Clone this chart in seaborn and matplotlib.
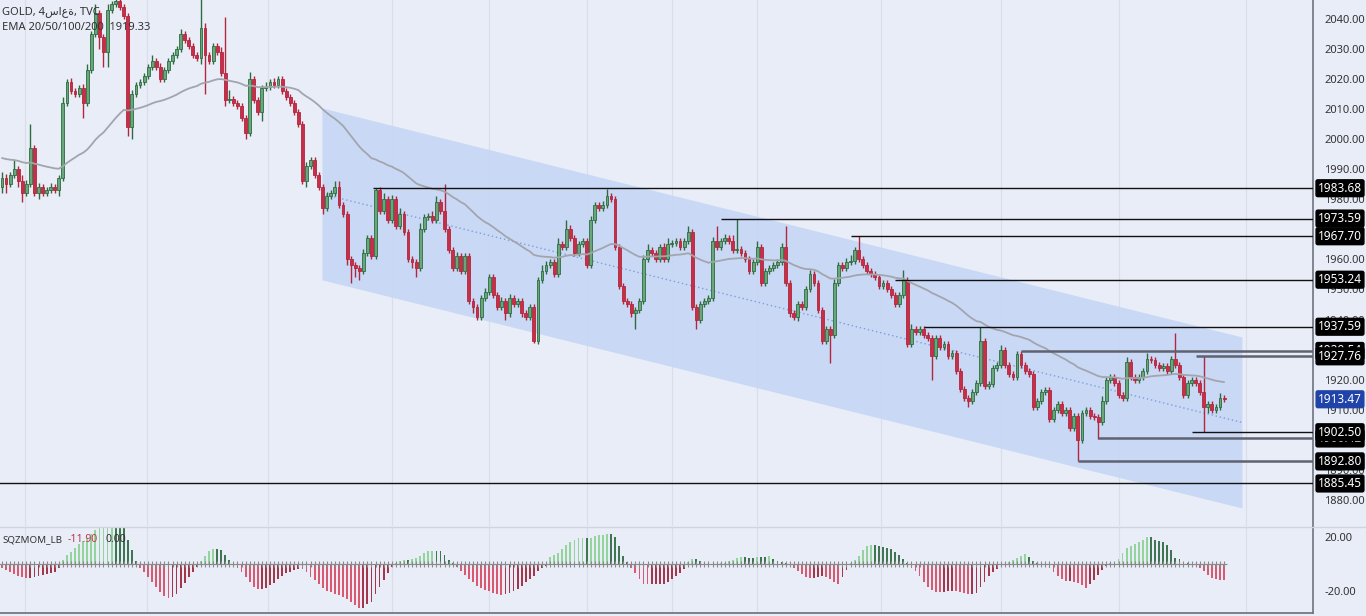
import numpy as np
import pandas as pd
import matplotlib
matplotlib.use("Agg")
import matplotlib.pyplot as plt
import matplotlib.transforms as mtrans
from matplotlib.lines import Line2D
import seaborn as sns

# ---- data (4h GOLD candles, left to right) ----
closes = [
    1987, 1985, 1988, 1990, 1986, 1982, 1985, 1997, 1982, 1984,
    1982, 1983, 1984, 1983, 1987, 2012, 2019, 2016, 2015, 2017,
    2012, 2023, 2035, 2042, 2034, 2029, 2043, 2045, 2046, 2044,
    2041, 2004, 2015, 2018, 2019, 2021, 2024, 2026, 2024, 2020,
    2023, 2026, 2028, 2030, 2035, 2033, 2031, 2028, 2027, 2037,
    2028, 2026, 2031, 2029, 2022, 2013, 2013.5, 2012, 2011, 2007,
    2002, 2020, 2013, 2009, 2017, 2017.5, 2019, 2018, 2020, 2016,
    2014, 2012, 2009, 2005, 1986, 1991, 1993, 1988, 1984, 1977,
    1981, 1982, 1984, 1978, 1975, 1960, 1958, 1957, 1956, 1962,
    1967, 1961, 1983, 1976, 1980, 1973, 1980, 1971, 1975, 1969,
    1960, 1959, 1957, 1970, 1974, 1974.5, 1973, 1979, 1976, 1970,
    1963, 1957, 1961, 1956, 1961, 1946, 1944, 1941, 1947, 1949,
    1954, 1948, 1944, 1946, 1942, 1947, 1945, 1946, 1942, 1941,
    1944, 1933, 1953, 1956, 1958, 1959, 1955, 1965, 1964, 1970,
    1967, 1962, 1965, 1966, 1958, 1973, 1978, 1977, 1978, 1981,
    1980, 1964, 1951, 1946, 1945, 1942, 1943, 1946, 1960, 1963,
    1962, 1960, 1964, 1960, 1965, 1965.5, 1966, 1964, 1966, 1969,
    1944, 1940, 1945, 1946, 1947, 1966, 1964, 1966, 1967, 1966,
    1963, 1963.5, 1962, 1960, 1956, 1959, 1964, 1952, 1956, 1957,
    1958, 1959, 1964, 1952, 1942, 1941, 1945, 1944, 1950, 1955,
    1952, 1943, 1933, 1937, 1935, 1952, 1958, 1957, 1959, 1959.5,
    1963, 1960, 1958, 1956, 1955, 1954, 1951, 1952, 1950, 1948,
    1945, 1948, 1953, 1932, 1937, 1936, 1937, 1935, 1934, 1928,
    1934, 1931, 1932, 1928, 1929, 1923, 1917, 1914, 1913, 1916,
    1919, 1933, 1918, 1918.5, 1924, 1925, 1930, 1925, 1922, 1921,
    1928.5, 1925, 1923, 1922, 1911, 1913, 1916, 1916.5, 1907, 1910,
    1912, 1909, 1910, 1904, 1908, 1900, 1909, 1910, 1908, 1907.5,
    1906, 1913, 1920, 1921, 1919, 1915, 1914, 1926, 1921, 1920,
    1921, 1923, 1927, 1926.5, 1925, 1924, 1924.5, 1923, 1927, 1925,
    1921, 1915, 1919, 1920, 1919, 1916, 1911, 1912, 1910, 1911,
    1914, 1913.47,
]
wick_up = [
    2, 1.5, 1, 3, 1, 2, 1.5, 8, 1, 1.5,
    1, 1, 1.5, 1, 1, 2, 1, 1.5, 1, 1,
    1.5, 2, 1, 3, 1, 1, 2, 1, 2, 2,
    1, 1, 1.5, 1, 1, 1, 1, 2, 1, 1.5,
    1, 1, 1, 1, 1.5, 1, 1, 1, 1, 12,
    1.5, 1, 1, 1, 1.5, 18.7, 3, 1, 1, 1,
    1, 2.4, 1, 1, 1, 1.5, 1, 1.5, 1, 1,
    1, 1, 1, 1, 1, 1.5, 1, 1, 1, 1,
    1.5, 1, 2, 2, 1, 1, 1, 1, 1, 1.5,
    1, 1, 0.68, 1, 2, 1, 1.5, 1, 2, 1,
    1, 1, 1, 2, 1, 1, 1.5, 2, 1, 9,
    1, 1, 1.5, 1, 1, 1, 1, 1, 1, 1.5,
    1, 1, 1, 1.5, 1, 1.5, 1, 1, 1, 1,
    1, 1, 1, 2, 1.5, 1, 1, 2, 1, 3,
    1.5, 1, 1, 1, 1, 1.5, 1, 1, 1.5, 2.5,
    1, 1, 1, 1, 1, 1, 1, 1, 1.5, 2,
    1, 1, 1, 1.5, 2, 1, 1, 1, 1, 2,
    1, 1, 1, 1, 1, 1.5, 5, 1, 1.5, 1,
    2, 10.09, 1, 1, 1, 1, 2, 1, 1, 1,
    1, 1, 1.5, 7, 1, 1, 1, 1, 1, 1.5,
    1, 1, 1, 1, 1, 1.5, 1, 1, 1.5, 2,
    1, 4.7, 1, 1, 1, 1, 1, 1, 1, 1,
    1, 1, 3.5, 1, 1.5, 1, 1, 1, 1, 1,
    1, 1, 1, 1, 1, 1, 1, 1, 1, 1,
    1, 4.59, 1, 1, 1, 1, 1.5, 1, 1, 1,
    1.04, 1, 1, 1, 1, 1, 1, 1, 1, 1,
    1, 1, 1, 1, 1, 1, 1, 1, 1, 1,
    1, 1.5, 1, 1, 1, 1, 1, 1.5, 1, 1,
    1, 1, 2, 1, 1, 1, 1, 1, 1, 8.6,
    1, 1, 1, 1, 1, 1, 11.76, 1, 1, 1,
    1.5, 1,
]
wick_dn = [
    2, 3, 1, 1, 2, 3, 1, 1, 1, 2,
    1, 1, 1, 1, 2, 1, 1, 1, 1, 1,
    5, 1, 1, 1, 4, 5, 5, 1, 1, 1,
    1, 3, 4, 1, 1, 1, 1, 1, 1, 1,
    1, 1, 1, 1, 1, 1, 1, 1, 1, 2,
    13, 1, 1, 1, 1, 2, 1, 1, 1, 1,
    2, 1, 1, 1, 3, 1, 1, 1, 1, 1,
    1, 1, 1, 1, 1, 2, 1, 1, 1, 2,
    1, 1, 1, 1, 1, 2, 6, 3, 3, 1,
    1, 1, 1, 1, 1, 1, 1, 1, 1, 1,
    1, 2, 3, 1, 1, 1, 1, 1, 1, 1,
    1, 1, 1, 1, 1, 1, 2, 1, 1, 1,
    1, 1, 1, 1, 2, 1, 1, 1, 1, 1,
    1, 0.8, 1, 1, 1, 1, 1, 1, 1, 1,
    1, 1, 1, 1, 1, 1, 1, 1, 1, 1,
    1, 1, 1, 1, 1, 1, 5, 1, 1, 1,
    1, 1, 1, 1, 1, 1, 1, 1, 1, 1,
    1, 3, 1, 1, 1, 1, 1, 1, 1, 1,
    1, 1, 1, 1, 1, 1, 1, 1, 1, 1,
    1, 1, 1, 1, 1, 1, 1.5, 1, 1, 1,
    1, 1, 1, 1, 9.5, 1, 1, 1, 1, 1,
    1, 1, 1, 1, 1, 1, 1, 1, 1, 1,
    1, 1, 1, 1, 1, 1, 1, 1, 1, 8,
    1, 1, 1, 1, 1, 1, 1, 1, 2, 1,
    1, 1, 1, 1, 1, 1, 1, 1, 1, 1,
    1, 1, 1, 1, 1, 1, 1, 1, 1, 1,
    1, 1, 1, 1, 1, 7.2, 1, 1, 1, 1,
    5.6, 1, 1, 1, 1, 1, 1, 1, 1, 1,
    1, 1, 1, 1, 1, 1, 1, 1, 1, 1,
    1, 1, 1, 1, 1, 1, 8.5, 2, 1, 1,
    1, 1,
]
# squeeze momentum histogram
momentum = [
    -3, -4.5, -6, -7.5, -9, -10, -10.5, -10.3, -9.5, -9, -8.5, -7.5, -6.5, -5.7, -3,
    3, 6.7, 9, 12, 15, 17, 19, 22, 25, 28, 30, 32, 33, 32, 31, 29, 18, 10, 2,
    -3, -6, -10, -13, -17, -21, -24, -25, -24.5, -22, -18, -14, -10, -6, -2,
    2, 6, 9.6, 11, 11, 10.5, 7, 3, 1,
    -3, -6, -10, -13, -17, -18.5, -18.5, -18, -15.5, -14, -11, -9, -7, -5.7, -4.5, -3.5,
    -4, -6, -9.5, -12, -15, -18, -20, -21, -22, -23, -24.5, -26, -28, -30.5, -32.5, -32.5,
    -30, -28, -22, -17, -12, -7, -2,
    0.8, 2, 3, 3, 4, 4.5, 6, 8, 9.5, 9.7, 9.7, 9.5, 7, 3, 0.5, -2,
    -5, -8, -11, -13.5, -16, -18, -19, -20, -21.3, -22.5, -23, -22.5, -21.5, -20, -18.5,
    -16, -13, -11.4, -9, -5.5, -3, -1.5,
    5, 7, 8.5, 11, 14, 16, 17.5, 19, 19.3, 19.3, 19.5, 20.5, 21.5, 21.8, 22, 22, 20, 13, 6, 1.5,
    -2.6, -7, -11, -14.5, -15, -15, -15, -15, -14.5, -13, -11, -9, -6.5, -3.7,
    1.5, 4, 4, 2,
    -1, -1.5, -1, -0.5, 0.7, 1,
    2, 3, 4.4, 5, 5, 4.5, 4.5, 5, 5, 5, 5.9, 3.5, 2, 1.5, 0.5,
    -1, -2.6, -5, -7.5, -9.5, -10.4, -10.4, -10, -9, -9.5, -11, -13, -14.5, -10, -4.7,
    1, 3, 6, 10, 13, 14, 14, 13.5, 12.5, 11.8, 11, 9, 7, 3.5, 0.5,
    -2.6, -5, -9, -13, -17, -19.5, -20.5, -20.6, -20.6, -20, -19.7, -20, -20.6, -21.5, -22,
    -22, -21.5, -17, -13, -9, -5.7, -3.7, -1,
    -0.5, 1.5, 3, 4.4, 6, 7.3, 5, 2, 1,
    -0.5, -1.5, -3, -6, -9, -11.4, -12.5, -12.5, -13, -14, -15.5, -17.5, -15, -11.5, -8, -4.5, -1.5,
    0.5, 1.5, 4, 8, 12, 13, 14.5, 16.5, 18, 19.8, 19.8, 18, 17, 16.5, 14, 10, 4.4, 3.5,
    1, 0.5, -0.5, -1, -2.6, -5, -8, -10.4, -11, -11.5, -11.9,
]
first_open = 1984
ema_seed = 1994
ema_span = 50
last_price = 1913.47

# horizontal levels drawn on the chart and the candle where each starts
levels = [1983.68, 1973.59, 1967.70, 1953.24, 1937.59, 1929.54, 1927.76, 1900.42, 1902.50, 1892.80, 1885.45]
level_start = [91.5, 177, 209, 220, 227, 251, 294, 270, 293, 265, -1]
level_gray = [False, False, False, False, False, True, True, True, False, True, False]

# regression channel (candle index, price)
channel_x = [78.8, 305.4]
channel_top = [2010.4, 1934.2]
channel_bottom = [1953.2, 1877.3]

price_ticks = list(range(1880, 2041, 10))
mom_ticks = [20, -20]
grid_idx = [5.7, 35.7, 65.5, 96, 120, 144, 165, 186, 216.5, 246, 275, 306.4]

# ---- styling ----
bg = "#e9edf8"
sns.set_theme(style="white", rc={"axes.facecolor": bg, "figure.facecolor": bg})
plt.rcParams["font.family"] = ["Noto Sans", "DejaVu Sans"]

df = pd.DataFrame({"close": closes, "up": wick_up, "dn": wick_dn, "mom": momentum})
df["idx"] = np.arange(len(df))
df["open"] = df["close"].shift(1).fillna(first_open)
df["high"] = df[["open", "close"]].max(axis=1) + df["up"]
df["low"] = df[["open", "close"]].min(axis=1) - df["dn"]
df["ema"] = pd.Series([ema_seed] + closes).ewm(span=ema_span, adjust=False).mean().iloc[1:].values

W, H = 1366, 616
fig = plt.figure(figsize=(W / 100, H / 100), dpi=100)
ax = fig.add_axes([0, 90 / H, 1313 / W, 526 / H])
axm = fig.add_axes([0, 3 / H, 1313 / W, 86 / H])

xlim = (-0.49, 322.9)
for a in (ax, axm):
    a.set_xlim(*xlim)
    a.set_xticks(grid_idx)
    a.tick_params(axis="x", length=0, labelbottom=False)
    a.grid(axis="x", color="#d9deea", lw=0.9)
    a.grid(axis="y", visible=False)
    for s in ("top", "left", "bottom"):
        a.spines[s].set_visible(False)
    a.spines["right"].set_color("#6f7380")
    a.spines["right"].set_linewidth(1.2)
    a.yaxis.tick_right()
    a.tick_params(axis="y", length=0, pad=8, labelsize=8, labelcolor="#333333")

# channel
ax.fill_between(channel_x, channel_bottom, channel_top, color="#c6d7f5", alpha=0.9, lw=0, zorder=1)
mid = [(t + b) / 2 for t, b in zip(channel_top, channel_bottom)]
ax.plot(channel_x, mid, color="#7d9ddc", lw=1, ls=(0, (1, 2)), zorder=1.5)

# candles
up = df["close"] >= df["open"]
fill = np.where(up, "#68a77a", "#c72f48")
edge = np.where(up, "#2f6b40", "#b3263d")
ax.vlines(df["idx"], df["low"], df["high"], colors=edge, lw=1, zorder=3)
ax.bar(df["idx"], (df["close"] - df["open"]).replace(0, 0.15), bottom=df["open"], width=0.7,
       color=fill, edgecolor=edge, linewidth=0.6, zorder=3.2)

# EMA
sns.lineplot(data=df, x="idx", y="ema", ax=ax, color="#a3a5ad", lw=1.3, zorder=4)

# levels
for lv, st, gr in zip(levels, level_start, level_gray):
    ax.hlines(lv, st, xlim[1], color="#5f6270" if gr else "#111111", lw=1.8 if gr else 1.0, zorder=5)

ax.set_ylim(1871.3, 2046.3)
ax.set_yticks(price_ticks)
ax.set_yticklabels([f"{t:.2f}" for t in price_ticks])
ax.set_xlabel("")
ax.set_ylabel("")

trans = mtrans.blended_transform_factory(ax.transAxes, ax.transData)
lx = 1 + 27 / 1313
for lv in levels:
    ax.text(lx, lv, f"{lv:.2f}", transform=trans, ha="center", va="center", color="white",
            fontsize=8.5, fontweight="bold", clip_on=False, zorder=10,
            bbox=dict(boxstyle="round,pad=0.22,rounding_size=0.2", fc="black", ec="none"))
ax.text(lx, last_price, f"{last_price:.2f}", transform=trans, ha="center", va="center", color="white",
        fontsize=8.5, fontweight="bold", clip_on=False, zorder=10,
        bbox=dict(boxstyle="round,pad=0.22,rounding_size=0.2", fc="#1f43a8", ec="none"))

# momentum panel
prev = df["mom"].shift(1).fillna(0)
mcol = np.where(df["mom"] >= 0,
                np.where(df["mom"] > prev, "#93d39c", "#3f7550"),
                np.where(df["mom"] < prev, "#d95a70", "#a3364b"))
axm.bar(df["idx"], df["mom"], width=0.45, color=mcol, lw=0, zorder=3)
axm.scatter(df["idx"], np.zeros(len(df)), marker="+", s=14, color="#8a8a8a", lw=0.8, zorder=4)
axm.set_ylim(-36.3, 27.4)
axm.set_yticks(mom_ticks)
axm.set_yticklabels([f"{t:.2f}" for t in mom_ticks])
axm.spines["bottom"].set_visible(True)
axm.spines["bottom"].set_color("#6f7380")
axm.set_xlabel("")
axm.set_ylabel("")

# panel separator
fig.add_artist(Line2D([0, 1], [1 - 526.5 / H, 1 - 526.5 / H], color="#cfd4df", lw=1))

# legend texts
fig.text(2 / W, 1 - 12 / H, "GOLD, 4ساعة, TVC", fontsize=8, color="#333333", va="center",
         family=["Noto Sans", "DejaVu Sans"])
fig.text(2 / W, 1 - 28 / H, "EMA 20/50/100/200  1919.33", fontsize=8, color="#333333", va="center")
fig.text(2 / W, 1 - 540 / H, "SQZMOM_LB", fontsize=7, color="#333333", va="center")
fig.text(68 / W, 1 - 540 / H, "-11.90", fontsize=7.5, color="#c0394b", va="center")
fig.text(106 / W, 1 - 540 / H, "0.00", fontsize=7.5, color="#333333", va="center")

fig.savefig("out.png", dpi=100, facecolor=bg)
